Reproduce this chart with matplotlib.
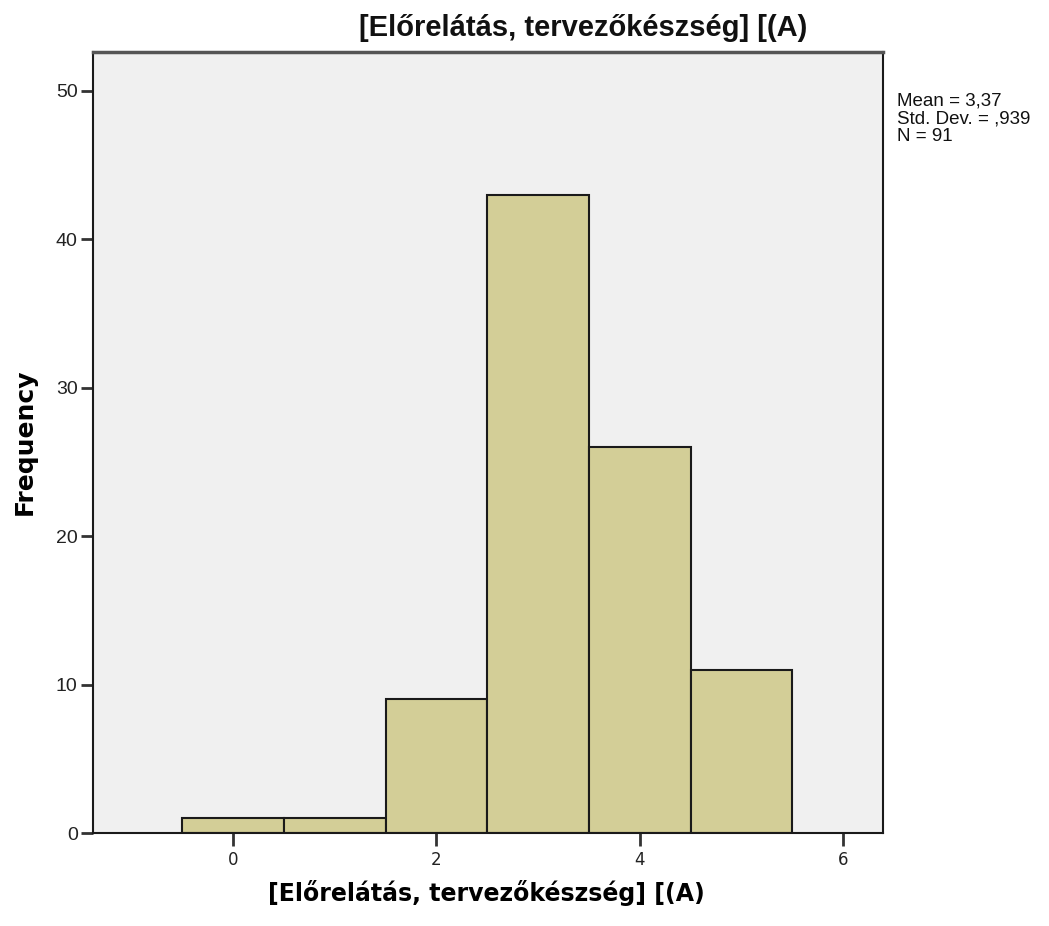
import matplotlib
matplotlib.use("Agg")
import matplotlib.pyplot as plt
import numpy as np

# Data
bin_edges = [-0.5, 0.5, 1.5, 2.5, 3.5, 4.5, 5.5]
frequencies = [1, 1, 9, 43, 26, 11]
x_ticks = [0, 2, 4, 6]
y_ticks = [0, 10, 20, 30, 40, 50]
title = "[Előrelátás, tervezőkészség] [(A)"
stats_text = "Mean = 3,37\nStd. Dev. = ,939\nN = 91"

W, H = 1049, 926
fig = plt.figure(figsize=(W / 100, H / 100), dpi=100)
L, R, T, B = 93, 883, 52, 833
ax = fig.add_axes([L / W, 1 - B / H, (R - L) / W, (B - T) / H])
ax.set_facecolor("#F0F0F0")

lefts = np.array(bin_edges[:-1])
widths = np.diff(bin_edges)
ax.bar(lefts, frequencies, width=widths, align="edge", color="#D3CE97",
       edgecolor="#1a1a1a", linewidth=1.5, zorder=2)

ax.set_xlim(-1.377, 6.393)
ax.set_ylim(0, 52.6)
ax.set_xticks(x_ticks)
ax.set_yticks(y_ticks)
ax.set_xticklabels([str(v) for v in x_ticks], fontsize=12, family="DejaVu Sans", color="#222222")
ax.set_yticklabels([str(v) for v in y_ticks], fontsize=14, family="Liberation Sans", color="#222222")
ax.tick_params(axis="both", direction="out", length=9, width=2, color="#333333")
ax.tick_params(axis="x", pad=4)
ax.tick_params(axis="y", pad=2)
for s in ax.spines.values():
    s.set_color("#1a1a1a")
    s.set_linewidth(1.5)
ax.spines["top"].set_color("#555555")
ax.spines["top"].set_linewidth(2.5)

ax.set_xlabel(title, fontsize=17, fontweight="bold", family="DejaVu Sans")
ax.xaxis.set_label_coords((486 - L) / (R - L), -(893 - B) / (B - T))
ax.xaxis.label.set_va("center")
ax.set_ylabel("Frequency", fontsize=18, fontweight="bold", family="DejaVu Sans")
ax.yaxis.set_label_coords(-(L - 25) / (R - L), (B - 442) / (B - T))
ax.yaxis.label.set_va("center")

fig.text(583 / W, 1 - 28 / H, title, ha="center", va="center", fontsize=21,
         fontweight="bold", family="Liberation Sans", color="#111111")
fig.text(897 / W, 1 - 93 / H, stats_text, ha="left", va="top", fontsize=13.5,
         family="Liberation Sans", linespacing=1.05, color="#111111")

fig.savefig("out.png", dpi=100, facecolor="white")
